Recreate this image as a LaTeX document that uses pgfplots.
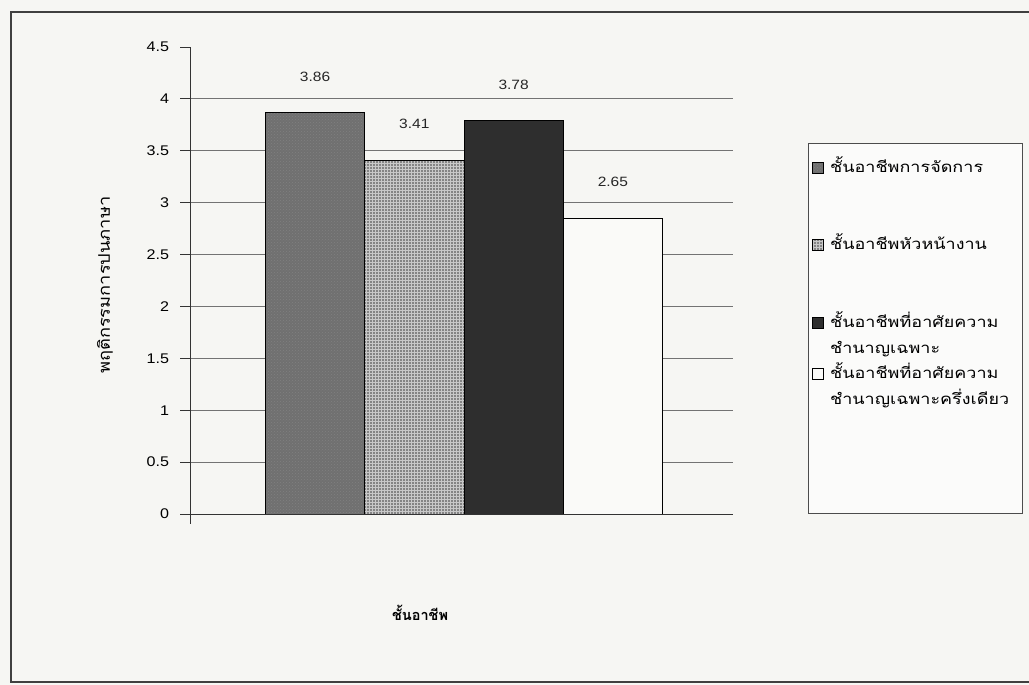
\documentclass[border=0pt]{standalone}
\usepackage{fontspec}
\setmainfont{Liberation Sans}
\newfontfamily\thai[Script=Thai]{Loma}
\usepackage{graphicx}
\usepackage{pgfplots}
\pgfplotsset{compat=1.18}
\usetikzlibrary{patterns}
\definecolor{bgc}{RGB}{246,246,243}
\definecolor{cA}{RGB}{112,112,112}
\definecolor{cB}{RGB}{132,132,132}
\definecolor{cC}{RGB}{46,46,46}
\definecolor{cD}{RGB}{250,250,248}
\newcommand{\wx}[1]{\scalebox{1.2}[1]{#1}}
\begin{document}
\begin{tikzpicture}[x=1pt,y=1pt]
\useasboundingbox (0,0) rectangle (1029,685);
\fill[bgc] (0,0) rectangle (1029,685);
\draw[line width=1.8pt, black!75] (1040,673) -- (11,673) -- (11,3) -- (1040,3);
\begin{axis}[
  at={(190pt,171pt)}, anchor=south west,
  scale only axis, width=543pt, height=467pt,
  xmin=-1.26, xmax=4.21, ymin=0, ymax=4.5,
  axis lines*=left,
  axis line style={black!80, line width=0.9pt},
  y axis line style={shorten <=-10pt},
  xtick=\empty,
  ytick={0,0.5,...,4}, extra y ticks={4.5},
  extra y tick style={grid=none},
  ymajorgrids, grid style={black!55, line width=0.8pt},
  tick align=outside, major tick length=10pt,
  tick style={black!80, line width=0.9pt},
  /pgf/number format/assume math mode=true,
  yticklabel style={font=\fontsize{14}{15}\selectfont, xscale=1.15, xshift=-6pt},
  every axis y label/.style={at={(axis description cs:-0.1565,0.49)}, rotate=90, anchor=center, font=\thai\fontsize{16}{18}\selectfont},
  every axis x label/.style={at={(axis description cs:0.4236,-0.212)}, anchor=center, font=\thai\bfseries\fontsize{14.5}{16}\selectfont},
  ylabel={\scalebox{1.14}[1]{พฤติกรรมการปนภาษา}},
  xlabel={ชั้นอาชีพ},
  legend cell align=left,
  legend image code/.code={\draw[#1,draw=black,line width=0.7pt] (0pt,-1pt) rectangle (11pt,10pt);},
  legend style={at={(axis description cs:1.138,0.7944)}, anchor=north west,
     draw=black!70, line width=0.8pt, fill=white!60!bgc,
     inner xsep=4pt, inner ysep=0pt, row sep=0pt, column sep=6pt,
     nodes={inner sep=0pt, anchor=base west, text height=, text depth=},
     font=\thai\fontsize{15}{26}\selectfont},
  point meta=explicit symbolic,
  nodes near coords,
  every node near coord/.append style={anchor=center, yshift=36pt, xscale=1.15, font=\fontsize{13.5}{15}\selectfont, black!85},
]
\addplot[ybar, bar width=1, draw=black, line width=0.8pt, fill=cA,
  postaction={pattern=crosshatch dots, pattern color=black!50}]
  coordinates {(0,3.87) [3.86]};
\addlegendentry{\raisebox{0pt}[29pt][67pt]{\wx{ชั้นอาชีพการจัดการ}}}
\addplot[ybar, bar width=1, draw=black, line width=0.8pt, fill=cB,
  postaction={pattern=grid, pattern color=white!55!cB}]
  coordinates {(1,3.41) [3.41]};
\addlegendentry{\raisebox{0pt}[10pt][67pt]{\wx{ชั้นอาชีพหัวหน้างาน}}}
\addplot[ybar, bar width=1, draw=black, line width=0.8pt, fill=cC]
  coordinates {(2,3.79) [3.78]};
\addlegendentry{\raisebox{0pt}[10pt][41pt]{\parbox[t]{188pt}{\wx{ชั้นอาชีพที่อาศัยความ}\\\wx{ชำนาญเฉพาะ}}}}
\addplot[ybar, bar width=1, draw=black, line width=0.8pt, fill=cD]
  coordinates {(3,2.85) [2.65]};
\addlegendentry{\raisebox{0pt}[10pt][135pt]{\parbox[t]{188pt}{\wx{ชั้นอาชีพที่อาศัยความ}\\\wx{ชำนาญเฉพาะครึ่งเดียว}}}}
\end{axis}
\end{tikzpicture}
\end{document}
